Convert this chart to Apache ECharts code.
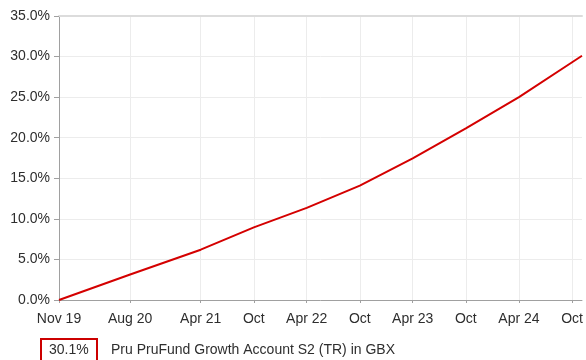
<!DOCTYPE html>
<html>
<head>
<meta charset="utf-8">
<script src="https://cdn.jsdelivr.net/npm/echarts@6/dist/echarts.min.js"></script>
<style>
  html, body { margin: 0; padding: 0; background: #fff; }
  #chart { width: 586px; height: 360px; }
</style>
</head>
<body>
<div id="chart"></div>
<script>
// Cumulative total return of the fund, in percent
const dates = [
  '2019-11-30', '2020-08-01', '2021-04-01', '2021-10-01', '2022-04-01',
  '2022-10-01', '2023-04-01', '2023-10-01', '2024-04-01', '2024-10-01', '2024-11-04'
];
const returns = [0, 3.15, 6.2, 8.95, 11.35, 14.1, 17.45, 21.15, 25.0, 29.3, 30.1];

// Axis ticks and their labels
const tickDates = [
  '2019-11-30', '2020-08-01', '2021-04-01', '2021-10-01', '2022-04-01',
  '2022-10-01', '2023-04-01', '2023-10-01', '2024-04-01', '2024-10-01'
];
const tickLabels = ['Nov 19', 'Aug 20', 'Apr 21', 'Oct', 'Apr 22', 'Oct', 'Apr 23', 'Oct', 'Apr 24', 'Oct'];

const seriesName = 'Pru PruFund Growth Account S2 (TR) in GBX';
const totalReturn = '30.1%';

// Dates are placed on a plain value axis as day numbers
const DAY = 86400000;
const toDay = d => Math.round(new Date(d + 'T00:00:00Z').getTime() / DAY);
const tickValues = tickDates.map(toDay);
const labelByDay = {};
tickValues.forEach((t, i) => { labelByDay[t] = tickLabels[i]; });

const font = '"Liberation Sans", Arial, sans-serif';
const fontSize = 14;
const textColor = '#2e2e2e';
const xMin = toDay(dates[0]);
const xMax = toDay(dates[dates.length - 1]);

const chart = echarts.init(document.getElementById('chart'), null, { renderer: 'canvas' });

chart.setOption({
  animation: false,
  backgroundColor: '#fff',
  grid: { left: 59, right: 0, top: 16, bottom: 60 },
  xAxis: [{
    type: 'value',
    min: xMin,
    max: xMax,
    axisLine: { show: true, onZero: false, lineStyle: { color: '#a0a0a0', width: 1 } },
    axisTick: { show: true, length: 3, customValues: tickValues, lineStyle: { color: '#a0a0a0' } },
    axisLabel: {
      customValues: tickValues,
      formatter: v => labelByDay[v] || '',
      color: textColor, fontFamily: font, fontSize: fontSize, margin: 12,
      hideOverlap: false, showMinLabel: true, showMaxLabel: true
    },
    splitLine: { show: true, lineStyle: { color: '#ececec', width: 1 } }
  }, {
    type: 'value',
    position: 'top',
    min: xMin,
    max: xMax,
    axisLine: { show: true, onZero: false, lineStyle: { color: '#dcdcdc', width: 2 } },
    axisTick: { show: false },
    axisLabel: { show: false },
    splitLine: { show: false }
  }],
  yAxis: {
    type: 'value',
    min: 0, max: 35, interval: 5,
    axisLine: { show: true, lineStyle: { color: '#a0a0a0', width: 1 } },
    axisTick: { show: true, length: 5, lineStyle: { color: '#a0a0a0' } },
    axisLabel: {
      formatter: v => v.toFixed(1) + '%',
      color: textColor, fontFamily: font, fontSize: fontSize, margin: 9
    },
    splitLine: { show: true, lineStyle: { color: '#ececec', width: 1 } }
  },
  series: [{
    name: seriesName,
    type: 'line',
    xAxisIndex: 0,
    data: dates.map((d, i) => [toDay(d), returns[i]]),
    showSymbol: false,
    smooth: false,
    lineStyle: { color: '#d40000', width: 2 },
    z: 5
  }],
  graphic: [
    {
      type: 'rect', left: 40, top: 338,
      shape: { width: 56, height: 26 },
      style: { fill: '#fff', stroke: '#cc0000', lineWidth: 2 }
    },
    {
      type: 'text', left: 49, top: 343,
      style: { text: totalReturn, fill: textColor, font: fontSize + 'px ' + font }
    },
    {
      type: 'text', left: 111, top: 343,
      style: { text: seriesName, fill: textColor, font: fontSize + 'px ' + font }
    }
  ]
});
</script>
</body>
</html>
